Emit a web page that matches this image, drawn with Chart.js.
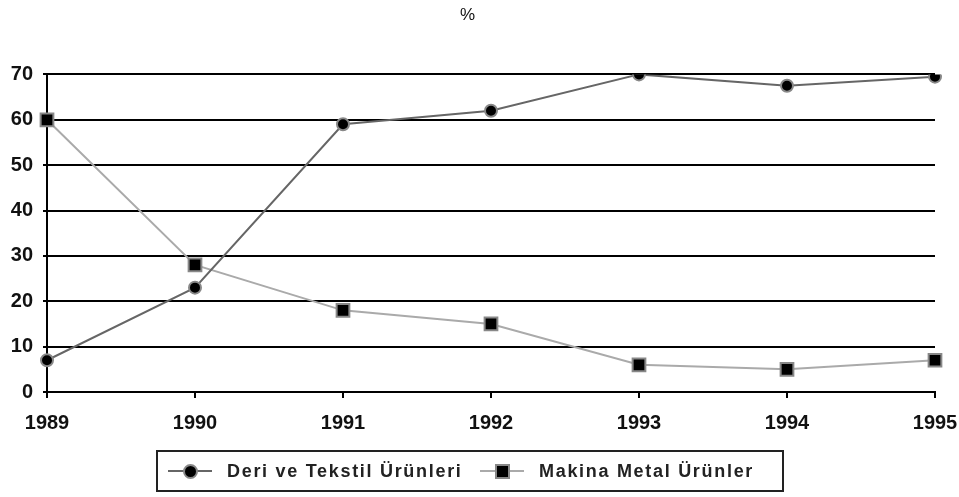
<!DOCTYPE html>
<html>
<head>
<meta charset="utf-8">
<script src="https://cdn.jsdelivr.net/npm/chart.js@4/dist/chart.umd.min.js"></script>
<style>
  html, body { margin: 0; padding: 0; background: #fff; }
  #wrap { position: relative; width: 959px; height: 497px; }
  #chart { position: absolute; left: 0; top: 0; }
  #legend {
    position: absolute; left: 156px; top: 450px; width: 624px; height: 38px;
    border: 2px solid #222; display: flex; align-items: center;
    font-family: "Liberation Sans", Arial, sans-serif; font-size: 18px; font-weight: bold;
    letter-spacing: 1.7px; color: #222;
  }
  .item { display: flex; align-items: center; position: absolute; top: 0; height: 38px; }
  .sym { position: relative; width: 44px; height: 16px; margin-right: 15px; }
  .sym .ln { position: absolute; left: 0; right: 0; top: 7px; height: 2px; }
  .sym .mk { position: absolute; left: 15px; top: 1px; width: 11px; height: 11px; background: #000; border: 2px solid #888; }
</style>
</head>
<body>
<div id="wrap">
  <canvas id="chart" width="959" height="497"></canvas>
  <div id="legend">
    <div class="item" style="left: 10px;">
      <div class="sym"><div class="ln" style="background:#666"></div><div class="mk" style="border-radius:50%"></div></div>
      <span id="lab0"></span>
    </div>
    <div class="item" style="left: 322px;">
      <div class="sym"><div class="ln" style="background:#aaa"></div><div class="mk"></div></div>
      <span id="lab1"></span>
    </div>
  </div>
</div>
<script>
const years = ['1989', '1990', '1991', '1992', '1993', '1994', '1995'];
const deriTekstil = [7, 23, 59, 62, 70, 67.5, 69.5];
const makinaMetal = [60, 28, 18, 15, 6, 5, 7];
const seriesNames = ['Deri ve Tekstil Ürünleri', 'Makina Metal Ürünler'];

const font = '"Liberation Sans", Arial, sans-serif';

document.querySelector('#lab0').textContent = seriesNames[0];
document.querySelector('#lab1').textContent = seriesNames[1];

new Chart(document.querySelector('#chart'), {
  type: 'line',
  data: {
    labels: years,
    datasets: [
      {
        label: seriesNames[0],
        data: deriTekstil,
        borderColor: '#666',
        borderWidth: 2,
        pointStyle: 'circle',
        pointRadius: 6,
        pointBackgroundColor: '#000',
        pointBorderColor: '#888',
        pointBorderWidth: 2,
        tension: 0,
      },
      {
        label: seriesNames[1],
        data: makinaMetal,
        borderColor: '#aaa',
        borderWidth: 2,
        pointStyle: 'rect',
        pointRadius: 9,
        pointBackgroundColor: '#000',
        pointBorderColor: '#888',
        pointBorderWidth: 2,
        tension: 0,
      },
    ],
  },
  options: {
    responsive: false,
    animation: false,
    layout: { padding: { left: 0, right: 24, top: 0, bottom: 0 } },
    plugins: {
      legend: { display: false },
      tooltip: { enabled: false },
      title: {
        display: true,
        text: '%',
        color: '#111',
        font: { family: font, size: 17, weight: 'normal' },
        padding: { top: 5, bottom: 49 },
      },
    },
    scales: {
      x: {
        offset: false,
        afterFit: (scale) => {
          scale.height = 105;
          scale.paddingLeft = 0;
          scale.paddingRight = 0;
        },
        grid: { drawOnChartArea: false, drawTicks: true, tickLength: 6, color: '#000', lineWidth: 2 },
        border: { color: '#000', width: 2 },
        ticks: { color: '#111', padding: 13, font: { family: font, size: 20, weight: 'bold' } },
      },
      y: {
        min: 0,
        max: 70,
        afterFit: (scale) => { scale.width = 47; },
        grid: { color: '#000', lineWidth: 2, tickLength: 4 },
        border: { color: '#000', width: 2 },
        ticks: { stepSize: 10, color: '#111', padding: 10, font: { family: font, size: 20, weight: 'bold' } },
      },
    },
  },
});
</script>
</body>
</html>
